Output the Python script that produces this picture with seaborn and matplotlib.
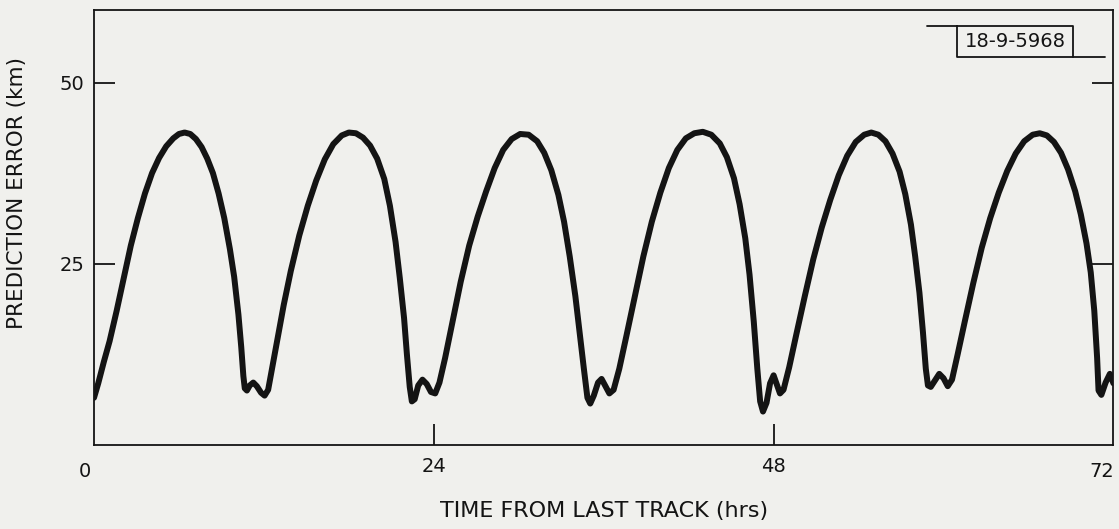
import matplotlib
matplotlib.use("Agg")
import matplotlib.pyplot as plt
import seaborn as sns
import pandas as pd

# values
hours = [0.0, 0.3, 0.7, 1.1, 1.6, 2.1, 2.6, 3.1, 3.6, 4.1, 4.6, 5.1, 5.6, 6.0, 6.4, 6.8,
         7.2, 7.6, 8.0, 8.4, 8.8, 9.2, 9.6, 9.9, 10.2, 10.4, 10.55, 10.65, 10.8, 11.0,
         11.25, 11.5, 11.8, 12.05, 12.3, 12.6, 13.0, 13.4, 13.9, 14.5, 15.1, 15.7, 16.3,
         16.9, 17.5, 18.0, 18.5, 19.0, 19.5, 20.0, 20.5, 20.9, 21.3, 21.6, 21.9, 22.1,
         22.3, 22.45, 22.65, 22.9, 23.2, 23.5, 23.8, 24.1, 24.4, 24.8, 25.3, 25.9, 26.5,
         27.1, 27.7, 28.3, 28.9, 29.5, 30.1, 30.7, 31.3, 31.8, 32.3, 32.8, 33.2, 33.6,
         34.0, 34.3, 34.6, 34.85, 35.05, 35.3, 35.6, 35.85, 36.1, 36.4, 36.7, 37.1, 37.6,
         38.2, 38.8, 39.4, 40.0, 40.6, 41.2, 41.8, 42.4, 43.0, 43.6, 44.2, 44.7, 45.2,
         45.6, 46.0, 46.3, 46.6, 46.85, 47.05, 47.25, 47.5, 47.75, 48.0, 48.2, 48.45,
         48.7, 49.1, 49.6, 50.2, 50.8, 51.4, 52.0, 52.6, 53.2, 53.8, 54.4, 54.9, 55.4,
         55.9, 56.4, 56.9, 57.3, 57.7, 58.0, 58.3, 58.55, 58.75, 58.9, 59.1, 59.4, 59.7,
         60.0, 60.3, 60.6, 61.0, 61.5, 62.1, 62.7, 63.3, 63.9, 64.5, 65.1, 65.7, 66.3,
         66.8, 67.3, 67.8, 68.3, 68.8, 69.3, 69.7, 70.1, 70.4, 70.65, 70.85, 70.95, 71.15,
         71.45, 71.75, 72.0]
error_km = [6.5, 8.5, 11.5, 14.3, 18.5, 23.0, 27.5, 31.3, 34.7, 37.5, 39.6, 41.2, 42.3, 42.9,
            43.1, 42.9, 42.2, 41.1, 39.5, 37.5, 34.7, 31.3, 27.0, 23.2, 18.0, 13.5, 9.5, 7.8,
            7.5, 8.2, 8.6, 8.1, 7.2, 6.8, 7.6, 10.8, 15.0, 19.3, 24.0, 28.9, 33.0, 36.5, 39.4,
            41.5, 42.7, 43.1, 43.0, 42.4, 41.3, 39.5, 36.7, 33.0, 28.0, 23.0, 17.5, 12.5, 8.0,
            6.0, 6.3, 8.2, 9.0, 8.4, 7.3, 7.1, 8.6, 12.0, 16.8, 22.5, 27.5, 31.5, 35.0, 38.2,
            40.7, 42.2, 42.9, 42.8, 41.9, 40.3, 37.9, 34.5, 30.8, 26.0, 20.5, 15.5, 10.5, 6.5,
            5.7, 6.8, 8.6, 9.1, 8.2, 7.1, 7.6, 10.5, 15.0, 20.5, 26.0, 30.8, 34.8, 38.2, 40.7,
            42.3, 43.0, 43.2, 42.8, 41.6, 39.7, 36.8, 33.2, 28.5, 23.5, 17.0, 10.5, 6.0, 4.6,
            5.8, 8.5, 9.6, 8.5, 7.1, 7.6, 10.7, 15.2, 20.5, 25.6, 30.0, 33.8, 37.2, 39.9, 41.8,
            42.8, 43.1, 42.8, 41.9, 40.2, 37.7, 34.6, 30.4, 26.0, 21.0, 15.5, 10.5, 8.2, 8.0,
            8.9, 9.8, 9.2, 8.1, 9.0, 12.5, 17.0, 22.3, 27.2, 31.3, 34.8, 37.8, 40.2, 41.9,
            42.8, 43.0, 42.7, 41.8, 40.3, 38.0, 35.0, 31.8, 27.8, 23.8, 18.5, 12.0, 7.5, 6.9,
            8.6, 9.8, 8.5]
x_ticks = [24, 48]
y_ticks = [25, 50]
chart_id = "18-9-5968"

df = pd.DataFrame({"hours": hours, "error": error_km})

sns.set_theme(style="ticks")
plt.rcParams["font.family"] = ["DejaVu Sans"]
paper = "#f0f0ed"
ink = "#141414"

fig = plt.figure(figsize=(11.19, 5.29), dpi=100, facecolor=paper)
ax = fig.add_axes([0.084, 0.159, 0.911, 0.822], facecolor=paper)

sns.lineplot(data=df, x="hours", y="error", ax=ax, color=ink, linewidth=4.3,
             solid_joinstyle="round", solid_capstyle="round", sort=False)

ax.set_xlim(0, 72)
ax.set_ylim(0, 60)
for s in ax.spines.values():
    s.set_visible(True)
    s.set_color(ink)
    s.set_linewidth(1.3)

ax.set_xticks(x_ticks)
ax.set_xticklabels([str(t) for t in x_ticks])
ax.set_yticks(y_ticks)
ax.set_yticklabels([str(t) for t in y_ticks])
ax.tick_params(axis="x", direction="in", length=15, width=1.3, color=ink,
               labelsize=14, pad=9, labelcolor=ink)
ax.tick_params(axis="y", direction="in", length=15, width=1.3, color=ink,
               labelsize=14, pad=7, labelcolor=ink, right=True)

# corner labels sit slightly off the axis ends
ax.text(-0.65, -2.4, "0", ha="center", va="top", fontsize=14, color=ink)
ax.text(71.2, -2.4, "72", ha="center", va="top", fontsize=14, color=ink)

ax.set_xlabel("TIME FROM LAST TRACK (hrs)", fontsize=16, color=ink, labelpad=18)
ax.set_ylabel("PREDICTION ERROR (km)", fontsize=15.5, color=ink)
ax.yaxis.set_label_coords(-0.066, 0.58)

# drawing number box in the corner
tr = ax.transAxes
ax.plot([0.847, 0.960, 0.960, 0.847, 0.847], [0.963, 0.963, 0.892, 0.892, 0.963],
        transform=tr, color=ink, lw=1.3, clip_on=False)
ax.plot([0.817, 0.847], [0.963, 0.963], transform=tr, color=ink, lw=1.3)
ax.plot([0.960, 0.992], [0.892, 0.892], transform=tr, color=ink, lw=1.3)
ax.text(0.9035, 0.927, chart_id, transform=tr, ha="center", va="center",
        fontsize=14, color=ink, family=["Liberation Sans Narrow", "DejaVu Sans"])

fig.savefig("out.png", dpi=100, facecolor=paper)
